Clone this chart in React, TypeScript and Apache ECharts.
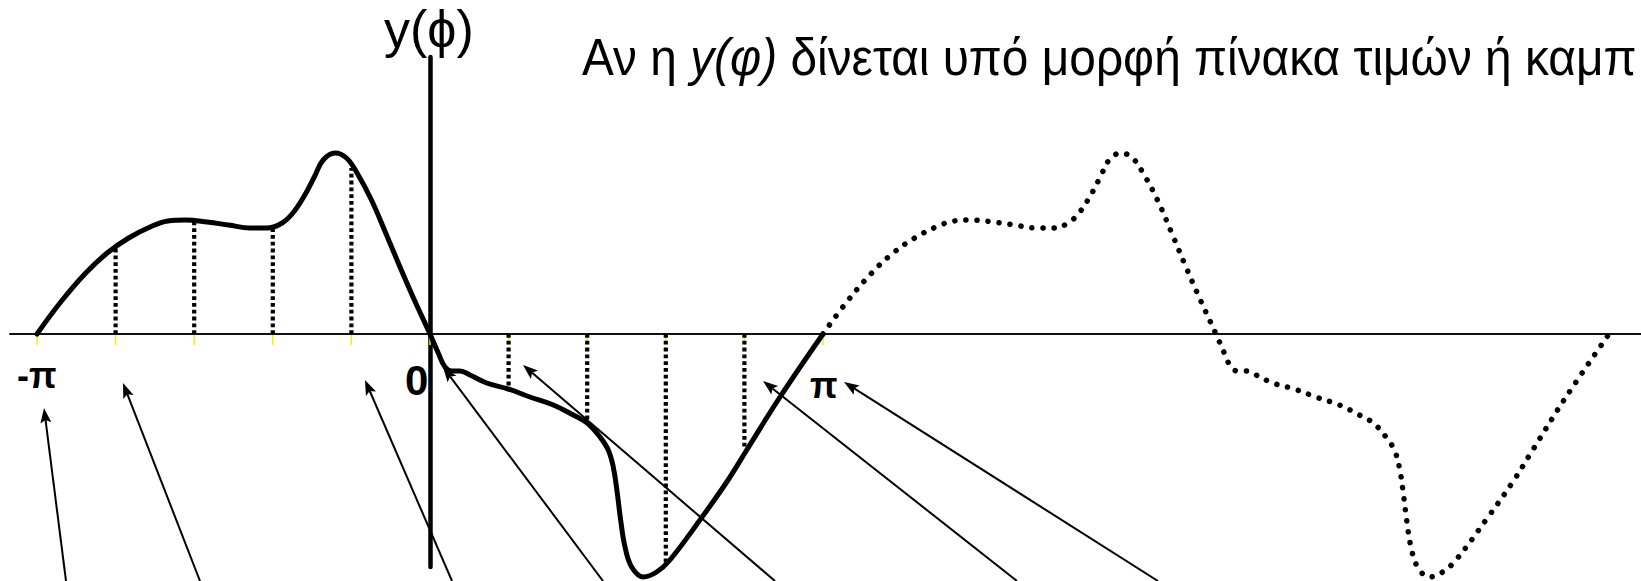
import React, { useEffect, useRef } from 'react';
import * as echarts from 'echarts';

const PI = Math.PI;

// Solid curve y(φ), -π … 0 (φ in rad, y in arbitrary units)
const leftPhi = [-3.1416, -2.952, -2.752, -2.581, -2.409, -2.238, -2.095, -1.953, -1.782, -1.61, -1.439, -1.296, -1.182, -1.096, -1.01, -0.925, -0.854, -0.759, -0.668, -0.583, -0.468, -0.354, -0.24, -0.125, 0];
const leftY = [0, 0.32, 0.61, 0.81, 0.96, 1.07, 1.13, 1.14, 1.12, 1.09, 1.06, 1.06, 1.11, 1.21, 1.37, 1.57, 1.74, 1.81, 1.76, 1.61, 1.34, 1.01, 0.67, 0.34, 0];
// Solid curve y(φ), 0 … π
const rightPhi = [0, 0.066, 0.12, 0.173, 0.24, 0.32, 0.453, 0.626, 0.799, 0.986, 1.146, 1.257, 1.359, 1.425, 1.465, 1.497, 1.524, 1.559, 1.612, 1.705, 1.812, 1.918, 2.158, 2.372, 2.532, 2.798, 3.1416];
const rightY = [0, -0.19, -0.33, -0.37, -0.37, -0.41, -0.49, -0.55, -0.63, -0.71, -0.81, -0.89, -1.03, -1.16, -1.33, -1.59, -1.86, -2.13, -2.33, -2.43, -2.38, -2.26, -1.86, -1.48, -1.16, -0.63, 0];

// Sampled ordinates (dotted verticals), at multiples of π/5
const sampleSteps = [-4, -3, -2, -1, 1, 2, 3, 4];
const sampleY = [0.86, 1.12, 1.06, 1.66, -0.53, -0.86, -2.3, -1.15];

// Tick marks at multiples of π/5 from -π to π
const tickSteps = [-5, -4, -3, -2, -1, 0, 1, 2, 3, 4, 5];

// Axis labels
const axisLabels = [
  { text: '-π', phi: -PI },
  { text: '0', phi: 0 },
  { text: 'π', phi: PI },
];

const FONT = '"Liberation Sans", Arial, sans-serif';

// annotation arrows (pixel positions: tail x, tail y, head x, head y)
const ARROWS = [
  [66, 581, 44, 408],
  [200, 581, 123, 383],
  [452, 581, 365, 380],
  [603, 581, 443, 367],
  [775, 581, 523, 365],
  [1017, 581, 763, 381],
  [1158, 581, 844, 382],
];

function arrowEls(a: number[]) {
  const [x1, y1, x2, y2] = a;
  const dx = x2 - x1, dy = y2 - y1;
  const L = Math.hypot(dx, dy);
  const ux = dx / L, uy = dy / L;
  const hl = 15, hw = 5.5;
  const bx = x2 - ux * hl, by = y2 - uy * hl;
  const px = -uy, py = ux;
  return [
    { type: 'line', z: 100, shape: { x1, y1, x2: bx + ux * 3, y2: by + uy * 3 }, style: { stroke: '#000', lineWidth: 2 } },
    {
      type: 'polygon', z: 100,
      shape: { points: [[x2, y2], [bx + px * hw, by + py * hw], [x2 - ux * hl * 0.8, y2 - uy * hl * 0.8], [bx - px * hw, by - py * hw]] },
      style: { fill: '#000' },
    },
  ];
}

export default function App() {
  const ref = useRef<HTMLDivElement>(null);
  useEffect(() => {
    if (!ref.current) return;
    const chart = echarts.init(ref.current, null, { renderer: 'svg' });
    const solid = [
      ...leftPhi.map((p, i) => [p, leftY[i]]),
      ...rightPhi.slice(1).map((p, i) => [p, rightY[i + 1]]),
    ];
    // periodic continuation (period 2π) drawn dotted from π to 3π
    const cont = solid.map(([p, y]) => [p + 2 * PI, y]);
    const ticks = tickSteps.map((k) => [(k * PI) / 5, 0]);
    const samples = sampleSteps.map((k, i) => [(k * PI) / 5, sampleY[i]]);

    const pxPerRad = 786 / (2 * PI);
    const xMin = -420 / pxPerRad;
    const xMax = 1211 / pxPerRad;

    const graphics: any[] = [
      { type: 'text', x: 384, y: 3, z: 50, style: { text: 'y(ϕ)', x: 0, y: 0, font: `52px ${FONT}`, fill: '#000', verticalAlign: 'top' } },
      {
        type: 'text', x: 582, y: 31, scaleX: 0.92, z: 50,
        style: {
          x: 0, y: 0, verticalAlign: 'top',
          text: 'Αν η {i|y(φ)} δίνεται υπό μορφή πίνακα τιμών ή καμπ',
          font: `52px ${FONT}`, fill: '#000',
          rich: { i: { fontStyle: 'italic', fontSize: 52, fontFamily: FONT, fill: '#000' } },
        },
      },
      ...ARROWS.flatMap(arrowEls),
    ];

    chart.setOption({
      animation: false,
      grid: { left: 10, right: 0, top: 57, bottom: 14 },
      xAxis: {
        type: 'value', min: xMin, max: xMax,
        axisLine: { onZero: true, lineStyle: { color: '#111', width: 2 } },
        axisTick: { show: false }, axisLabel: { show: false }, splitLine: { show: false },
      },
      yAxis: {
        type: 'value', min: -2.33, max: 2.77,
        axisLine: { show: true, onZero: true, lineStyle: { color: '#000', width: 4.5 } },
        axisTick: { show: false }, axisLabel: { show: false }, splitLine: { show: false },
      },
      graphic: graphics,
      series: [
        {
          type: 'custom', silent: true, clip: false, z: 1,
          data: ticks,
          renderItem: (params: any, api: any) => {
            const p = api.coord([api.value(0), 0]);
            return { type: 'line', shape: { x1: p[0], y1: p[1] + 1, x2: p[0], y2: p[1] + 11 }, style: { stroke: '#f2f000', lineWidth: 1.5 } };
          },
        },
        {
          type: 'custom', silent: true, clip: false, z: 1,
          data: samples,
          renderItem: (params: any, api: any) => {
            const a = api.coord([api.value(0), 0]);
            const b = api.coord([api.value(0), api.value(1)]);
            return { type: 'line', shape: { x1: a[0], y1: a[1], x2: b[0], y2: b[1] }, style: { stroke: '#000', lineWidth: 4.2, lineDash: [3.8, 3] } };
          },
        },
        {
          type: 'custom', silent: true, clip: false, z: 3,
          data: axisLabels.map((l) => [l.phi, 0]),
          renderItem: (params: any, api: any) => {
            const l = axisLabels[params.dataIndex];
            const p = api.coord([api.value(0), 0]);
            const cfg: any = {
              '-π': { dx: -20, y: 393, size: 36 },
              '0': { dx: -25, y: 401, size: 42 },
              'π': { dx: -13, y: 403, size: 36 },
            }[l.text];
            return {
              type: 'text',
              style: { text: l.text, x: p[0] + cfg.dx, y: cfg.y, font: `bold ${cfg.size}px ${FONT}`, fill: '#000', verticalAlign: 'bottom' },
            };
          },
        },
        {
          type: 'line', data: solid, smooth: 0.4, showSymbol: false, symbol: 'none', clip: false, z: 5,
          lineStyle: { color: '#000', width: 5, cap: 'round', join: 'round' },
        },
        {
          type: 'line', data: cont, smooth: 0.4, showSymbol: false, symbol: 'none', clip: false, z: 5,
          lineStyle: { color: '#000', width: 5.5, type: [0.1, 11], cap: 'round' },
        },
      ],
    });
    return () => chart.dispose();
  }, []);
  return <div ref={ref} style={{ position: 'fixed', left: 0, top: 0, width: 1641, height: 581, background: '#fff' }} />;
}
